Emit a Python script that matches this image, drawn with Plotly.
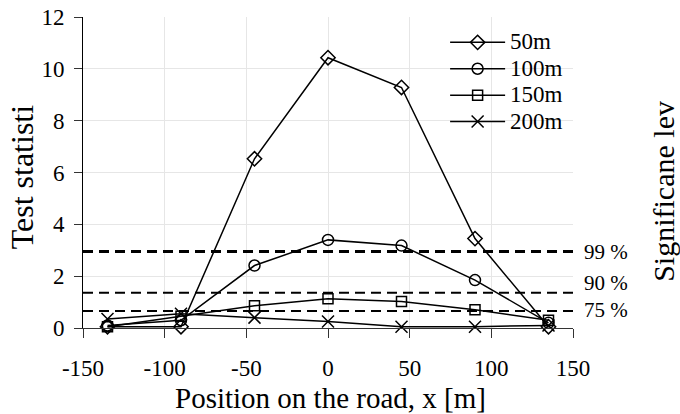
import plotly.graph_objects as go

# Data
positions = [-135, -90, -45, 0, 45, 90, 135]
series_names = ["50m", "100m", "150m", "200m"]
vals_50 = [0.05, 0.05, 6.53, 10.43, 9.28, 3.45, 0.05]
vals_100 = [0.1, 0.3, 2.41, 3.4, 3.18, 1.85, 0.2]
vals_150 = [0.05, 0.45, 0.86, 1.13, 1.02, 0.7, 0.3]
vals_200 = [0.35, 0.55, 0.4, 0.25, 0.05, 0.05, 0.1]
sig_labels = ["99 %", "90 %", "75 %"]
sig_values = [2.95, 1.36, 0.66]
sig_label_pos = [2.95, 1.72, 0.68]
x_ticks = [-150, -100, -50, 0, 50, 100, 150]
y_ticks = [0, 2, 4, 6, 8, 10, 12]

FONT = "Liberation Serif"

fig = go.Figure()

symbols = ["diamond-open", "circle-open", "square-open", "x-thin-open"]
sizes = [11, 11, 10, 12]
for name, vals, sym, sz in zip(series_names, [vals_50, vals_100, vals_150, vals_200], symbols, sizes):
    fig.add_trace(go.Scatter(
        x=positions, y=vals,
        name='<span style="font-size:23px">' + name + '</span>',
        mode="lines+markers",
        line=dict(color="black", width=1.5),
        marker=dict(symbol=sym, size=sz, color="black", line=dict(color="black", width=1.5)),
        cliponaxis=False,
    ))

# Significance level dashed lines
for val, w in zip(sig_values, [3, 2, 2]):
    fig.add_trace(go.Scatter(
        x=[x_ticks[0], x_ticks[-1]], y=[val, val], mode="lines",
        line=dict(color="black", width=w, dash="10px,6px"),
        showlegend=False, hoverinfo="skip", cliponaxis=False,
    ))

for lab, ypos in zip(sig_labels, sig_label_pos):
    fig.add_annotation(x=1.02, xref="paper", y=ypos, yref="y", text=lab,
                       showarrow=False, xanchor="left", yanchor="middle",
                       borderpad=0,
                       font=dict(family=FONT, size=21, color="black"))

# Axis titles as annotations
fig.add_annotation(x=0.506, xref="paper", y=-0.166, yref="paper",
                   text="Position on the road, x [m]",
                   showarrow=False, xanchor="center", yanchor="top",
                   font=dict(family=FONT, size=29, color="black"))
fig.add_annotation(x=-0.125, xref="paper", y=0.487, yref="paper", text="Test statisti",
                   textangle=-90, showarrow=False, xanchor="center", yanchor="middle",
                   font=dict(family=FONT, size=32, color="black"))
fig.add_annotation(x=1.185, xref="paper", y=0.44, yref="paper", text="Significane lev",
                   textangle=-90, showarrow=False, xanchor="center", yanchor="middle",
                   font=dict(family=FONT, size=30, color="black"))

fig.update_layout(
    width=680, height=414,
    margin=dict(l=83, r=107, t=17, b=86),
    plot_bgcolor="white", paper_bgcolor="white",
    font=dict(family=FONT, color="black"),
    legend=dict(x=0.739, y=0.977, xanchor="left", yanchor="top",
                font=dict(family=FONT, size=18, color="black"),
                bgcolor="rgba(0,0,0,0)", itemwidth=55, tracegroupgap=0),
    xaxis=dict(range=[-150, 150], tickvals=x_ticks, ticktext=[str(v) for v in x_ticks],
               showgrid=True, gridcolor="#e6e6e6", gridwidth=1,
               showline=True, linecolor="#333333", linewidth=1,
               ticks="outside", ticklen=9, tickcolor="#333333",
               tickfont=dict(family=FONT, size=23, color="black"),
               ticklabelstandoff=10, automargin=False,
               zeroline=False),
    yaxis=dict(range=[0, 12], tickvals=y_ticks, ticktext=[str(v) for v in y_ticks],
               showgrid=True, gridcolor="#e6e6e6", gridwidth=1,
               showline=True, linecolor="black", linewidth=1,
               ticks="outside", ticklen=8, tickcolor="#333333",
               tickfont=dict(family=FONT, size=23, color="black"),
               ticklabelstandoff=5, automargin=False,
               zeroline=False),
)

fig.write_html("out.html")
